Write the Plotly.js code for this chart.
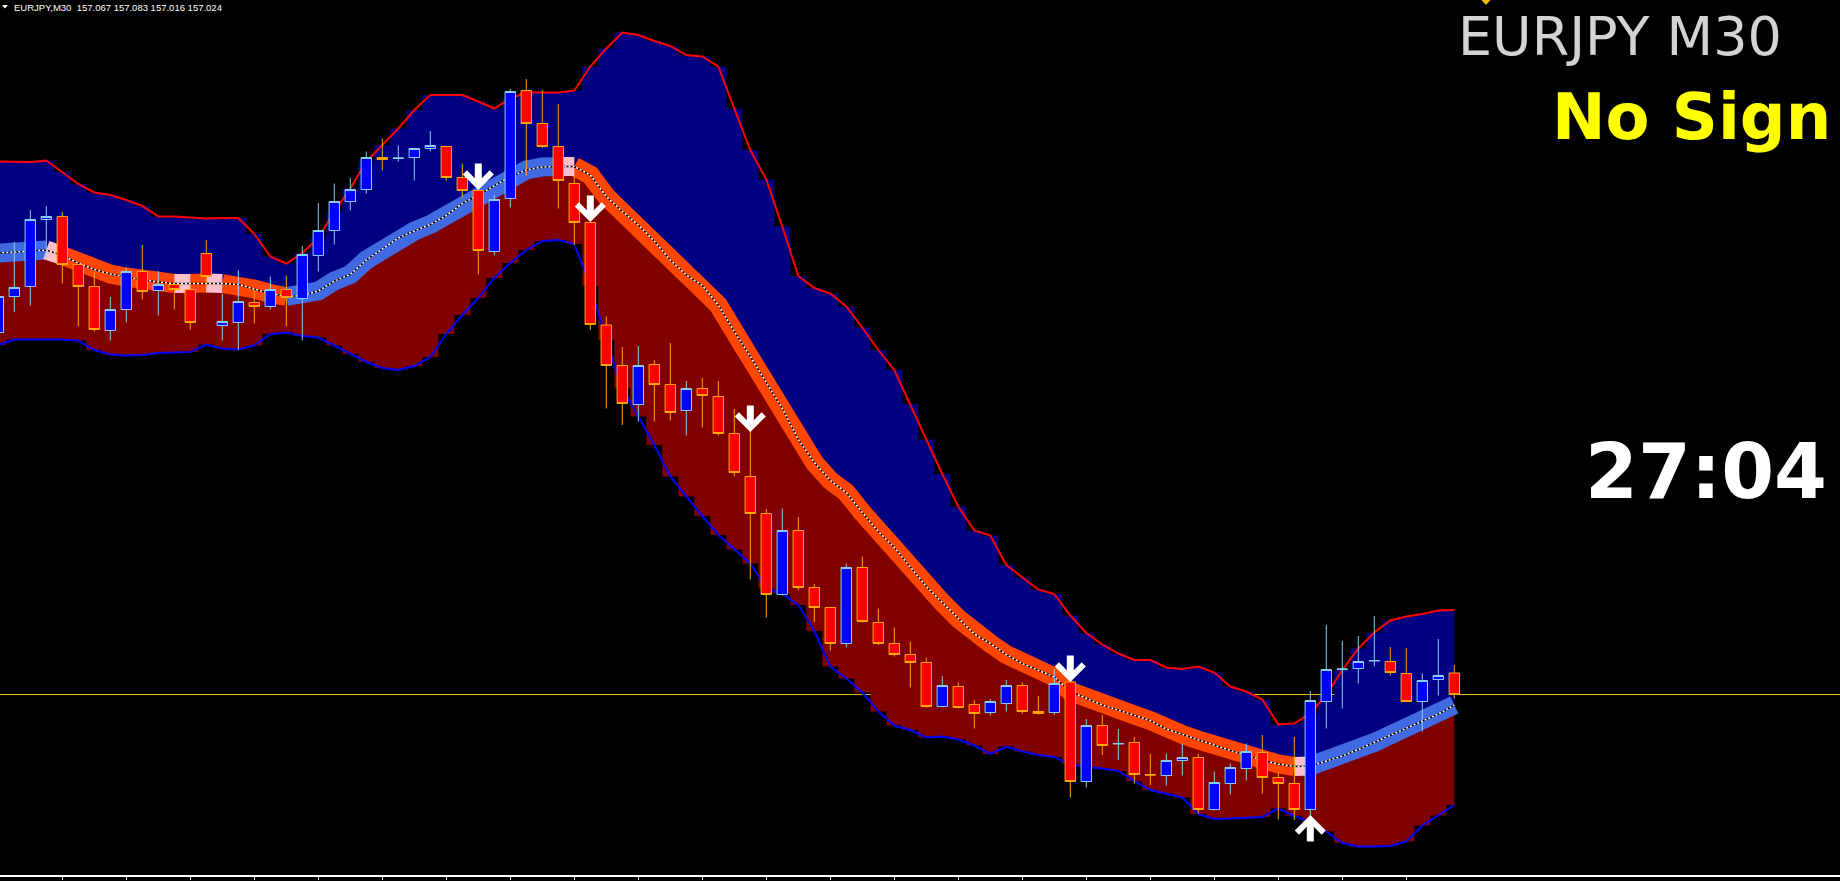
<!DOCTYPE html>
<html><head><meta charset="utf-8">
<script src="https://cdn.plot.ly/plotly-3.0.1.min.js"></script>
<style>html,body{margin:0;padding:0;background:#000;overflow:hidden}#chart{width:1840px;height:881px}</style>
</head><body><div id="chart"></div>
<script>
// ---- text ----
const symbolLabel = "EURJPY,M30  157.067 157.083 157.016 157.024";
const titleText = "EURJPY M30";
const signalText = "No Sign";
const timerText = "27:04";
const bidPrice = 157.024;

// ---- candles (EURJPY M30) ----
const openPrices = [157.748,157.820,157.840,157.974,157.980,157.884,157.840,157.752,157.794,157.870,
 157.832,157.844,157.834,157.906,157.762,157.768,157.808,157.800,157.834,157.816,
 157.902,157.952,158.010,158.034,158.098,158.096,158.098,158.116,158.120,158.058,
 158.032,157.910,158.016,158.232,158.166,158.120,158.046,157.968,157.763,157.682,
 157.604,157.684,157.644,157.592,157.636,157.620,157.546,157.460,157.386,157.224,
 157.352,157.238,157.198,157.126,157.278,157.168,157.126,157.104,157.088,157.000,
 157.040,157.004,156.988,157.006,157.042,156.990,156.988,157.049,156.850,156.962,
 156.925,156.928,156.864,156.862,156.892,156.898,156.794,156.846,156.876,156.908,
 156.858,156.846,156.794,157.010,157.074,157.076,157.091,157.090,157.066,157.010,
 157.054,157.067];
const highPrices = [157.837,157.929,157.993,158.001,157.989,157.884,157.870,157.819,157.878,157.923,
 157.871,157.850,157.843,157.933,157.826,157.873,157.833,157.860,157.862,157.921,
 158.007,158.046,158.058,158.110,158.136,158.122,158.116,158.151,158.120,158.086,
 158.040,158.023,158.235,158.255,158.233,158.205,158.060,157.968,157.780,157.719,
 157.721,157.693,157.727,157.651,157.657,157.651,157.595,157.558,157.395,157.396,
 157.379,157.245,157.198,157.286,157.300,157.196,157.158,157.130,157.098,157.061,
 157.048,157.013,157.015,157.053,157.048,157.021,157.075,157.053,156.975,156.983,
 156.955,156.939,156.905,156.906,156.926,156.905,156.870,156.886,156.926,156.943,
 156.868,156.939,157.031,157.163,157.131,157.141,157.181,157.119,157.117,157.066,
 157.135,157.083];
const lowPrices = [157.737,157.789,157.802,157.897,157.846,157.760,157.750,157.732,157.768,157.814,
 157.782,157.794,157.754,157.843,157.732,157.713,157.766,157.794,157.760,157.732,
 157.870,157.924,157.992,158.026,158.072,158.090,158.052,158.110,158.052,158.018,
 157.864,157.902,157.998,158.062,158.117,157.996,157.923,157.753,157.596,157.563,
 157.570,157.570,157.572,157.542,157.558,157.542,157.460,157.254,157.178,157.222,
 157.233,157.169,157.112,157.118,157.168,157.123,157.100,157.038,156.998,157.000,
 156.996,156.956,156.982,156.990,156.986,156.984,156.983,156.818,156.838,156.903,
 156.893,156.846,156.843,156.842,156.862,156.786,156.792,156.824,156.852,156.826,
 156.774,156.773,156.770,156.956,156.996,157.046,157.080,157.062,157.010,156.950,
 157.022,157.016];
const closePrices = [157.820,157.838,157.974,157.980,157.884,157.840,157.754,157.794,157.870,157.830,
 157.844,157.834,157.768,157.860,157.770,157.810,157.800,157.834,157.818,157.904,
 157.952,158.010,158.034,158.098,158.094,158.097,158.116,158.122,158.058,158.032,
 157.912,158.014,158.230,158.166,158.120,158.052,157.968,157.764,157.682,157.606,
 157.682,157.644,157.588,157.636,157.622,157.546,157.468,157.386,157.224,157.352,
 157.238,157.198,157.126,157.278,157.170,157.126,157.104,157.088,157.000,157.042,
 156.998,156.986,157.010,157.042,156.990,156.986,157.046,156.850,156.962,156.922,
 156.926,156.864,156.863,156.892,156.898,156.794,156.848,156.878,156.910,156.858,
 156.846,156.794,157.012,157.074,157.075,157.090,157.092,157.068,157.010,157.052,
 157.062,157.024];

// ---- band indicator ----
const upperBand = [158.090,158.089,158.089,158.092,158.069,158.045,158.028,158.023,158.013,158.001,
 157.980,157.980,157.978,157.976,157.977,157.977,157.945,157.900,157.886,157.907,
 157.937,157.990,158.036,158.090,158.123,158.156,158.193,158.223,158.223,158.223,
 158.210,158.196,158.216,158.228,158.228,158.228,158.232,158.280,158.316,158.348,
 158.343,158.331,158.321,158.303,158.300,158.280,158.196,158.113,158.054,157.960,
 157.861,157.837,157.826,157.800,157.758,157.713,157.673,157.605,157.534,157.465,
 157.400,157.352,157.342,157.283,157.258,157.234,157.225,157.182,157.147,157.124,
 157.106,157.093,157.093,157.078,157.075,157.080,157.068,157.040,157.030,157.014,
 156.964,156.966,156.986,157.023,157.073,157.116,157.148,157.172,157.180,157.185,
 157.192,157.193];
const lowerBand = [157.723,157.734,157.734,157.734,157.734,157.732,157.713,157.704,157.702,157.703,
 157.707,157.708,157.709,157.724,157.716,157.714,157.722,157.745,157.748,157.741,
 157.738,157.722,157.705,157.689,157.677,157.673,157.681,157.699,157.745,157.783,
 157.817,157.857,157.887,157.913,157.931,157.933,157.925,157.841,157.733,157.636,
 157.580,157.523,157.460,157.420,157.381,157.343,157.314,157.286,157.236,157.225,
 157.203,157.151,157.080,157.056,157.028,156.990,156.962,156.953,156.938,156.940,
 156.934,156.922,156.905,156.920,156.910,156.903,156.899,156.885,156.879,156.876,
 156.871,156.851,156.833,156.826,156.818,156.785,156.775,156.776,156.777,156.779,
 156.796,156.781,156.769,156.750,156.727,156.720,156.720,156.721,156.730,156.762,
 156.782,156.803];
const middleLine = [157.907,157.909,157.911,157.913,157.902,157.887,157.874,157.865,157.859,157.854,
 157.849,157.846,157.846,157.847,157.846,157.844,157.835,157.826,157.820,157.822,
 157.831,157.851,157.864,157.893,157.915,157.937,157.951,157.964,157.982,158.006,
 158.023,158.041,158.060,158.073,158.079,158.080,158.080,158.063,158.020,157.990,
 157.963,157.931,157.893,157.863,157.842,157.803,157.750,157.700,157.648,157.596,
 157.534,157.488,157.452,157.428,157.388,157.350,157.318,157.279,157.240,157.208,
 157.176,157.145,157.126,157.104,157.086,157.072,157.059,157.030,157.016,157.003,
 156.993,156.983,156.972,156.955,156.944,156.933,156.922,156.912,156.903,156.893,
 156.885,156.880,156.881,156.891,156.901,156.914,156.928,156.943,156.956,156.970,
 156.985,157.003];
// U = rising (blue), D = falling (orange), N = flat (pink); one letter per bar
const trendCodes = "UUUU N DDDDD DD N D N DDDD UUUUU UUUUU UUUUU UU N DDDDD DDDDD DDDDD DDDDD DDDDD DDDDD DDDDD DDDDD DDDDD N UUUUU UUUU";

// ---- signal arrows ----
const downArrowBars = [30, 37, 47, 67];
const downArrowPrices = [158.033, 157.969, 157.549, 157.049];
const upArrowBars = [82];
const upArrowPrices = [156.783];

// ---- time axis ticks (every 4 bars) ----
const timeTickBars = [4,8,12,16,20,24,28,32,36,40,44,48,52,56,60,64,68,72,76,80,84,88];

// ================= build =================
const bars = openPrices.map((_, i) => i);
const trend = trendCodes.replace(/ /g, '').split('');
const trendColor = {U: '#4169E1', D: '#FF4500', N: '#FFC0CB'};

const traces = [];
const base = {mode: 'lines', hoverinfo: 'skip', showlegend: false};
traces.push(Object.assign({}, base, {x: bars, y: middleLine, line: {width: 0, shape: 'hvh'}}));
traces.push(Object.assign({}, base, {x: bars, y: upperBand, line: {width: 0, shape: 'hvh'}, fill: 'tonexty', fillcolor: '#000080'}));
traces.push(Object.assign({}, base, {x: bars, y: lowerBand, line: {width: 0, shape: 'hvh'}}));
traces.push(Object.assign({}, base, {x: bars, y: middleLine, line: {width: 0, shape: 'hvh'}, fill: 'tonexty', fillcolor: '#800000'}));
traces.push(Object.assign({}, base, {x: bars, y: upperBand, line: {color: '#FF0000', width: 2}}));
traces.push(Object.assign({}, base, {x: bars, y: lowerBand, line: {color: '#0000FF', width: 2}}));

// middle thick line, runs of the same trend state
const runs = [];
let start = 1;
for (let i = 2; i <= bars.length; i++) {
  if (i === bars.length || trend[i] !== trend[start]) {
    runs.push({state: trend[start], from: start - 1, to: i - 1});
    start = i;
  }
}
const orderedRuns = runs.filter(r => r.state !== 'N').concat(runs.filter(r => r.state === 'N'));
orderedRuns.forEach(r => {
  traces.push(Object.assign({}, base, {
    x: bars.slice(r.from, r.to + 1), y: middleLine.slice(r.from, r.to + 1),
    line: {color: trendColor[r.state], width: 19}
  }));
});
traces.push(Object.assign({}, base, {x: bars, y: middleLine, line: {color: '#000000', width: 1.5}}));
traces.push(Object.assign({}, base, {x: bars, y: middleLine, line: {color: '#FFFFFF', width: 1.5, dash: '2px,2px'}}));

// candles on an overlaid subplot so they sit above the indicator fills
traces.push({
  type: 'candlestick', xaxis: 'x2', yaxis: 'y2',
  x: bars, open: openPrices, high: highPrices, low: lowPrices, close: closePrices,
  increasing: {line: {color: '#87CEFA', width: 1}, fillcolor: '#0000FF'},
  decreasing: {line: {color: '#FFA500', width: 1}, fillcolor: '#FF0000'},
  whiskerwidth: 0, hoverinfo: 'skip', showlegend: false
});

const PW = 1840, PH = 875;
const px = v => v / PW;
const py = v => 1 - v / PH;

const annotations = [];
downArrowBars.forEach((b, k) => annotations.push({
  x: b, y: downArrowPrices[k], xref: 'x', yref: 'y', ax: 0, ay: -28, text: '',
  showarrow: true, arrowhead: 4, arrowwidth: 7, arrowsize: 0.74, arrowcolor: '#FFFFFF', standoff: 0
}));
upArrowBars.forEach((b, k) => annotations.push({
  x: b, y: upArrowPrices[k], xref: 'x', yref: 'y', ax: 0, ay: 28, text: '',
  showarrow: true, arrowhead: 4, arrowwidth: 7, arrowsize: 0.74, arrowcolor: '#FFFFFF', standoff: 0
}));
annotations.push({xref: 'paper', yref: 'paper', x: px(12), y: py(8), xanchor: 'left', yanchor: 'middle',
  text: symbolLabel, showarrow: false, font: {family: 'Liberation Sans, Arial, sans-serif', size: 9.5, color: '#FFFFFF'}});
annotations.push({xref: 'paper', yref: 'paper', x: px(1784), y: py(36), xanchor: 'right', yanchor: 'middle',
  text: titleText, showarrow: false, font: {family: 'DejaVu Sans, Verdana, sans-serif', size: 54, color: '#D3D3D3'}});
annotations.push({xref: 'paper', yref: 'paper', x: px(1833), y: py(117), xanchor: 'right', yanchor: 'middle',
  text: signalText, showarrow: false, font: {family: 'DejaVu Sans, Arial, sans-serif', size: 64, color: '#FFFF00', weight: 'bold'}});
annotations.push({xref: 'paper', yref: 'paper', x: px(1829), y: py(471), xanchor: 'right', yanchor: 'middle',
  text: timerText, showarrow: false, font: {family: 'DejaVu Sans, Arial, sans-serif', size: 76, color: '#FFFFFF', weight: 'bold'}});

const shapes = [
  {type: 'line', xref: 'paper', yref: 'y', x0: 0, x1: 1, y0: bidPrice, y1: bidPrice, layer: 'below',
   line: {color: '#E6B422', width: 1}},
  {type: 'path', xref: 'paper', yref: 'paper', layer: 'above',
   path: `M ${px(2)} ${py(5)} L ${px(8)} ${py(5)} L ${px(5)} ${py(8.5)} Z`, fillcolor: '#FFFFFF', line: {width: 0}},
  {type: 'path', xref: 'paper', yref: 'paper', layer: 'above',
   path: `M ${px(1481.5)} ${py(0)} L ${px(1490.5)} ${py(0)} L ${px(1486)} ${py(5)} Z`, fillcolor: '#F0C000', line: {width: 0}}
];

const xRange = [0.10625, 115.10625];
const yRange = [156.663, 158.413];
const layout = {
  width: 1840, height: 881,
  margin: {l: 0, r: 0, t: 0, b: 6, pad: 0},
  paper_bgcolor: '#000000', plot_bgcolor: '#000000',
  showlegend: false, boxgap: 0.35, boxgroupgap: 0,
  xaxis: {range: xRange, showgrid: false, zeroline: false, showline: true,
    linecolor: '#FFFFFF', linewidth: 2, ticks: 'outside', ticklen: 3, tickwidth: 1, tickcolor: '#FFFFFF',
    tickmode: 'array', tickvals: timeTickBars, showticklabels: false, rangeslider: {visible: false}, fixedrange: true},
  yaxis: {range: yRange, visible: false, showgrid: false, zeroline: false, fixedrange: true},
  xaxis2: {overlaying: 'x', range: xRange, visible: false, showgrid: false, zeroline: false,
    rangeslider: {visible: false}, fixedrange: true},
  yaxis2: {overlaying: 'y', range: yRange, visible: false, showgrid: false, zeroline: false, fixedrange: true},
  shapes: shapes, annotations: annotations
};

Plotly.newPlot('chart', traces, layout, {staticPlot: true, displayModeBar: false});
</script></body></html>
